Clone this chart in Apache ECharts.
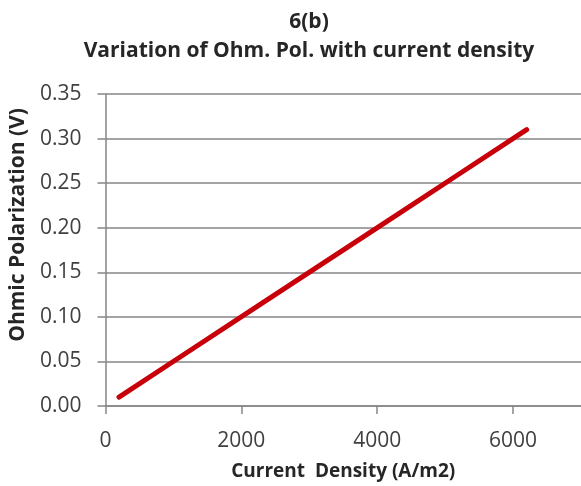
<!DOCTYPE html>
<html><head><meta charset="utf-8">
<script src="https://cdn.jsdelivr.net/npm/echarts@6/dist/echarts.min.js"></script>
<style>html,body{margin:0;padding:0;background:#fff}#c{width:581px;height:486px}</style>
</head><body><div id="c"></div>
<script>
var currentDensity = [200, 1200, 2200, 3200, 4200, 5200, 6200];
var ohmicPolarization = [0.01, 0.06, 0.11, 0.16, 0.21, 0.26, 0.31];
var xTicks = [0, 2000, 4000, 6000];
var yTicks = [0.00, 0.05, 0.10, 0.15, 0.20, 0.25, 0.30, 0.35];

var font = 'Open Sans';
var chart = echarts.init(document.getElementById('c'), null, {renderer: 'canvas'});
chart.setOption({
  animation: false,
  title: [{
    text: '6(b)\nVariation of Ohm. Pol. with current density',
    left: 304, top: 3, textAlign: 'center',
    textStyle: {fontFamily: font, fontWeight: 'bold', fontSize: 21, color: '#262626', lineHeight: 29}
  }],
  grid: {left: 102, right: -4, top: 94, bottom: 79},
  xAxis: {
    type: 'value', min: 0, max: 7000, interval: 2000,
    name: 'Current  Density (A/m2)', nameLocation: 'middle', nameGap: 56,
    nameTextStyle: {fontFamily: font, fontSize: 19, color: '#262626', fontWeight: 'bold'},
    axisLine: {show: true, lineStyle: {color: '#868686', width: 1.5}},
    axisTick: {show: true, length: 8, lineStyle: {color: '#868686', width: 1.5}},
    axisLabel: {margin: 25, fontFamily: font, fontSize: 21, color: '#404040', showMaxLabel: false,
      formatter: function (v) { return xTicks.indexOf(v) >= 0 ? String(v) : ''; }},
    splitLine: {show: false}
  },
  yAxis: {
    type: 'value', min: 0, max: 0.35, interval: 0.05,
    name: 'Ohmic Polarization (V)', nameLocation: 'middle', nameGap: 70,
    nameTextStyle: {fontFamily: font, fontSize: 21, color: '#262626', fontWeight: 'bold', padding: [0, 0, 0, 50]},
    axisLine: {show: true, lineStyle: {color: '#868686', width: 1.5}},
    axisTick: {show: true, length: 8, inside: false, lineStyle: {color: '#868686', width: 1.5}},
    axisLabel: {margin: 24, fontFamily: font, fontSize: 21, color: '#404040',
      formatter: function (v) { return v.toFixed(2); }},
    splitLine: {show: true, lineStyle: {color: '#868686', width: 1.5}}
  },
  series: [{
    type: 'line',
    data: currentDensity.map(function (x, i) { return [x, ohmicPolarization[i]]; }),
    showSymbol: false,
    lineStyle: {color: '#C8000A', width: 5, cap: 'round'}
  }]
});
</script></body></html>
